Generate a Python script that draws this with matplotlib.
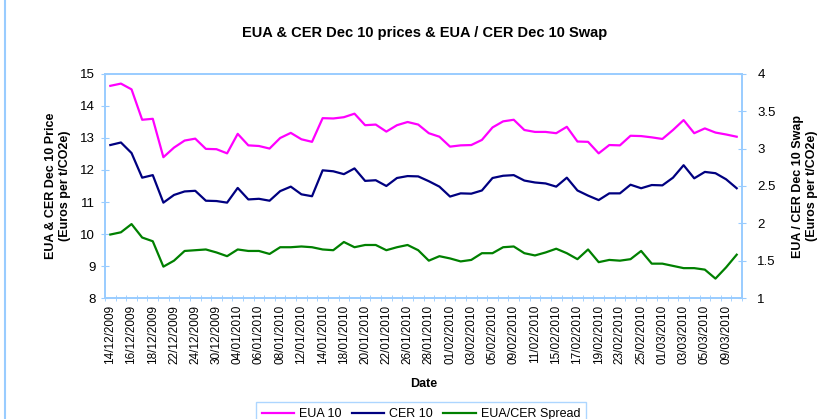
import matplotlib
matplotlib.use("Agg")
import matplotlib.pyplot as plt
from matplotlib.ticker import FormatStrFormatter, FixedLocator
from matplotlib.lines import Line2D

plt.rcParams['font.family'] = ['Liberation Sans', 'DejaVu Sans']

dates = ["14/12/2009", "15/12/2009", "16/12/2009", "17/12/2009", "18/12/2009",
         "21/12/2009", "22/12/2009", "23/12/2009", "24/12/2009", "29/12/2009",
         "30/12/2009", "31/12/2009", "04/01/2010", "05/01/2010", "06/01/2010",
         "07/01/2010", "08/01/2010", "11/01/2010", "12/01/2010", "13/01/2010",
         "14/01/2010", "15/01/2010", "18/01/2010", "19/01/2010", "20/01/2010",
         "21/01/2010", "22/01/2010", "25/01/2010", "26/01/2010", "27/01/2010",
         "28/01/2010", "29/01/2010", "01/02/2010", "02/02/2010", "03/02/2010",
         "04/02/2010", "05/02/2010", "08/02/2010", "09/02/2010", "10/02/2010",
         "11/02/2010", "12/02/2010", "15/02/2010", "16/02/2010", "17/02/2010",
         "18/02/2010", "19/02/2010", "22/02/2010", "23/02/2010", "24/02/2010",
         "25/02/2010", "26/02/2010", "01/03/2010", "02/03/2010", "03/03/2010",
         "04/03/2010", "05/03/2010", "08/03/2010", "09/03/2010", "10/03/2010"]

eua = [14.63, 14.70, 14.52, 13.57, 13.60, 12.40, 12.70, 12.92, 12.98, 12.66,
       12.65, 12.52, 13.13, 12.77, 12.75, 12.67, 13.00, 13.16, 12.96, 12.88,
       13.62, 13.61, 13.65, 13.76, 13.40, 13.42, 13.20, 13.40, 13.50, 13.42,
       13.15, 13.04, 12.73, 12.77, 12.78, 12.94, 13.33, 13.52, 13.57, 13.25,
       13.19, 13.19, 13.15, 13.35, 12.89, 12.88, 12.52, 12.78, 12.77, 13.07,
       13.06, 13.02, 12.97, 13.25, 13.56, 13.15, 13.30, 13.17, 13.11, 13.04]

cer = [12.78, 12.86, 12.53, 11.76, 11.84, 10.98, 11.22, 11.33, 11.35, 11.04,
       11.03, 10.98, 11.44, 11.08, 11.10, 11.04, 11.34, 11.48, 11.24, 11.18,
       11.99, 11.96, 11.87, 12.05, 11.66, 11.68, 11.50, 11.75, 11.81, 11.80,
       11.65, 11.48, 11.17, 11.27, 11.26, 11.36, 11.75, 11.82, 11.84, 11.67,
       11.61, 11.58, 11.48, 11.76, 11.36, 11.20, 11.06, 11.27, 11.27, 11.54,
       11.43, 11.53, 11.52, 11.76, 12.15, 11.74, 11.94, 11.90, 11.71, 11.43]

spread = [1.85, 1.88, 1.99, 1.81, 1.76, 1.42, 1.50, 1.63, 1.64, 1.65,
          1.61, 1.56, 1.65, 1.63, 1.63, 1.59, 1.68, 1.68, 1.69, 1.68,
          1.65, 1.64, 1.75, 1.68, 1.71, 1.71, 1.64, 1.68, 1.71, 1.64,
          1.50, 1.56, 1.53, 1.49, 1.51, 1.60, 1.60, 1.68, 1.69, 1.60,
          1.57, 1.61, 1.66, 1.60, 1.52, 1.65, 1.48, 1.51, 1.50, 1.52,
          1.63, 1.46, 1.46, 1.43, 1.40, 1.40, 1.38, 1.26, 1.41, 1.58]

axis_col = '#99CCFF'
x = list(range(len(dates)))

fig = plt.figure(figsize=(8.3, 4.19), dpi=100)
ax = fig.add_axes([105/830, 1 - 298/419, 637/830, 224/419])
ax2 = ax.twinx()

l1, = ax.plot(x, eua, color='#FF00FF', lw=1.6)
l2, = ax.plot(x, cer, color='#000080', lw=1.6)
l3, = ax2.plot(x, spread, color='#008000', lw=1.6)

ax.set_xlim(-0.5, len(dates) - 0.5)
ax.set_ylim(8, 15)
ax.set_yticks(range(8, 16))
ax2.set_ylim(1, 4)
ax2.set_yticks([1, 1.5, 2, 2.5, 3, 3.5, 4])
ax2.yaxis.set_major_formatter(FormatStrFormatter('%g'))

ax.set_xticks(x[::2])
ax.set_xticklabels(dates[::2], rotation=90, fontsize=8.5)
ax.xaxis.set_minor_locator(FixedLocator([i - 0.5 for i in range(len(dates) + 1)]))
ax.tick_params(axis='x', which='major', length=0, pad=5)
ax.tick_params(axis='x', which='minor', length=5, direction='inout', color=axis_col)
ax.tick_params(axis='y', length=6, direction='inout', color=axis_col, labelsize=9.5, pad=4)
ax2.tick_params(axis='y', length=6, direction='inout', color=axis_col, labelsize=9.5, pad=8)

for a in (ax, ax2):
    for s in a.spines.values():
        s.set_color(axis_col)
        s.set_linewidth(1.2)

ax.set_xlabel('Date', fontsize=9, fontweight='bold', labelpad=10)
ax.set_ylabel('EUA & CER Dec 10 Price\n(Euros per t/CO2e)', fontsize=9, fontweight='bold', labelpad=7)
ax2.set_ylabel('EUA / CER Dec 10 Swap\n(Euros per t/CO2e)', fontsize=9, fontweight='bold',
               rotation=90, labelpad=12)

fig.text(425/830, 1 - 33/419, 'EUA & CER Dec 10 prices & EUA / CER Dec 10 Swap',
         ha='center', va='center', fontsize=10.5, fontweight='bold')

leg = fig.legend([l1, l2, l3], ['EUA 10', 'CER 10', 'EUA/CER Spread'], loc='upper center',
                 bbox_to_anchor=(421/830, 1 - 396/419), ncol=3, fontsize=9, frameon=True,
                 fancybox=False, handlelength=2.6, handletextpad=0.4, columnspacing=0.8,
                 borderpad=0.45)
leg.get_frame().set_edgecolor(axis_col)
leg.get_frame().set_linewidth(1.0)

fig.add_artist(Line2D([5/830, 5/830], [0, 1], color=axis_col, lw=1.5, transform=fig.transFigure))

fig.savefig('out.png', dpi=100)
